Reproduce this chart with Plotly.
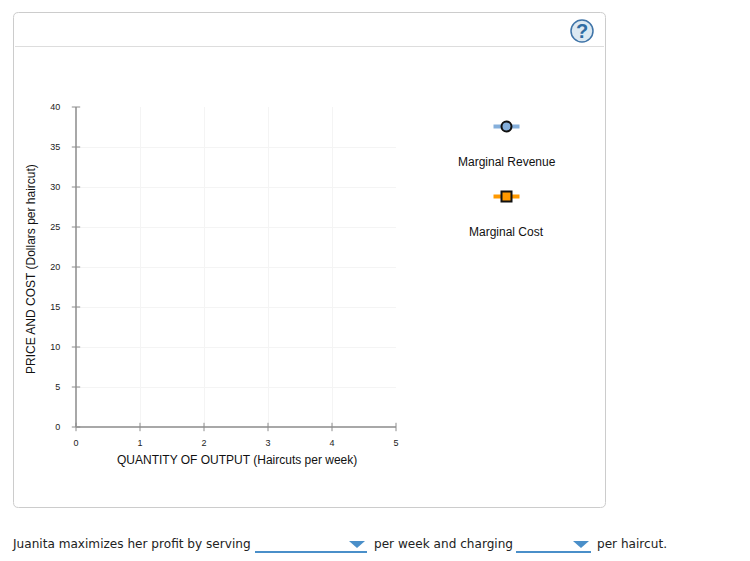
import plotly.graph_objects as go

# ---- data ----
x_ticks = [0, 1, 2, 3, 4, 5]
y_ticks = [0, 5, 10, 15, 20, 25, 30, 35, 40]
series_names = ["Marginal Revenue", "Marginal Cost"]
series_colors = ["#85afdb", "#ff9900"]
series_symbols = ["circle", "square"]
x_title = "QUANTITY OF OUTPUT (Haircuts per week)"
y_title = "PRICE AND COST (Dollars per haircut)"
sentence = ["Juanita maximizes her profit by serving", "per week and charging", "per haircut."]

# ---- page geometry (pixels) ----
W, H = 750, 561
L, R, T, B = 76, 396, 107, 427
AX = "#a8a8a8"
TICK = "#8c8c8c"
GRID = "#f4f4f4"
ARIAL = "Liberation Sans, Arial, sans-serif"
VERD = "DejaVu Sans, Verdana, sans-serif"
BLUE = "#4a8fc9"
CLEAR = "rgba(0,0,0,0)"

fig = go.Figure()

# crossing tick marks on both axes
fig.add_trace(go.Scatter(x=[0] * len(y_ticks), y=y_ticks, mode="markers", hoverinfo="skip", showlegend=False,
                         cliponaxis=False,
                         marker=dict(symbol="line-ew-open", size=6, color=TICK, line=dict(color=TICK, width=1))))
fig.add_trace(go.Scatter(x=x_ticks, y=[0] * len(x_ticks), mode="markers", hoverinfo="skip", showlegend=False,
                         cliponaxis=False,
                         marker=dict(symbol="line-ns-open", size=6, color=TICK, line=dict(color=TICK, width=1))))

# legend glyphs, drawn on a page-sized second axis pair
glyph_y = [126.5, 196.5]
label_y = [161.5, 231.5]
glyph_x = 506.5
for name, color, sym, gy in zip(series_names, series_colors, series_symbols, glyph_y):
    fig.add_trace(go.Scatter(x=[glyph_x - 13, glyph_x + 13], y=[gy, gy], xaxis="x2", yaxis="y2", mode="lines",
                             showlegend=False, hoverinfo="skip", line=dict(color=color, width=4)))
    fig.add_trace(go.Scatter(x=[glyph_x], y=[gy], xaxis="x2", yaxis="y2", mode="markers", name=name,
                             showlegend=False, hoverinfo="skip",
                             marker=dict(symbol=sym, size=10, color=color, line=dict(color="#111111", width=2))))

ann = []
for name, ly in zip(series_names, label_y):
    ann.append(dict(x=glyph_x, y=ly, xref="x2", yref="y2", text=name, showarrow=False,
                    font=dict(family=ARIAL, size=12, color="#111111"), xanchor="center", yanchor="middle"))
ann.append(dict(x=236.5, y=459.5, xref="x2", yref="y2", text=x_title, showarrow=False,
                font=dict(family=ARIAL, size=12, color="#111111"), xanchor="center", yanchor="middle"))
ann.append(dict(x=30.5, y=269.5, xref="x2", yref="y2", text=y_title, showarrow=False, textangle=-90,
                font=dict(family=ARIAL, size=12, color="#111111"), xanchor="center", yanchor="middle"))
for txt, tx in zip(sentence, [10, 372, 595]):
    ann.append(dict(x=tx, y=543.5, xref="x2", yref="y2", text=txt, showarrow=False,
                    font=dict(family=VERD, size=12.1, color="#222222"), xanchor="left", yanchor="middle"))
ann.append(dict(x=582, y=31, xref="x2", yref="y2", text="<b>?</b>", showarrow=False,
                font=dict(family=ARIAL, size=20, color="#2f6ca3"), xanchor="center", yanchor="middle"))

r = 5
x0, x1, y0, y1 = 13.5, 605.5, 12.5, 507.5
panel = (f"M{x0+r},{y0} L{x1-r},{y0} Q{x1},{y0} {x1},{y0+r} L{x1},{y1-r} Q{x1},{y1} {x1-r},{y1} "
         f"L{x0+r},{y1} Q{x0},{y1} {x0},{y1-r} L{x0},{y0+r} Q{x0},{y0} {x0+r},{y0} Z")
shapes = [
    dict(type="path", path=panel, xref="x2", yref="y2", line=dict(color="#cccccc", width=1), layer="below"),
    dict(type="line", x0=15, x1=604, y0=46.5, y1=46.5, xref="x2", yref="y2", line=dict(color="#dddddd", width=1), layer="below"),
    dict(type="circle", x0=571, x1=593, y0=20, y1=42, xref="x2", yref="y2",
         fillcolor="#dce9f2", line=dict(color="#3f74a8", width=1.5), layer="below"),
]
for lx0, lx1, t0, t1 in [(255, 367, 349, 365), (516, 591, 573, 589)]:
    shapes.append(dict(type="line", x0=lx0, x1=lx1, y0=552, y1=552, xref="x2", yref="y2",
                       line=dict(color=BLUE, width=2)))
    shapes.append(dict(type="path", path=f"M{t0},541 L{t1},541 L{(t0+t1)/2},548 Z", xref="x2", yref="y2",
                       fillcolor=BLUE, line=dict(width=0)))

fig.update_layout(
    width=W, height=H, autosize=False, margin=dict(l=0, r=0, t=0, b=0),
    paper_bgcolor="white", plot_bgcolor=CLEAR, showlegend=False,
    shapes=shapes, annotations=ann,
    font=dict(family=ARIAL, size=9, color="#222222"),
    xaxis=dict(domain=[L / W, R / W], range=[0, 5], tickvals=x_ticks, ticks="outside", ticklen=7, tickcolor=CLEAR,
               showgrid=True, gridcolor=GRID, gridwidth=1, showline=False,
               zeroline=True, zerolinecolor=AX, zerolinewidth=2,
               tickfont=dict(family=ARIAL, size=9, color="#222222"), anchor="y", fixedrange=True,
               automargin=False),
    yaxis=dict(domain=[(H - B) / H, (H - T) / H], range=[0, 40], tickvals=y_ticks, ticks="outside", ticklen=13,
               tickcolor=CLEAR, showgrid=True, gridcolor=GRID, gridwidth=1, showline=False,
               zeroline=True, zerolinecolor=AX, zerolinewidth=2,
               tickfont=dict(family=ARIAL, size=9, color="#222222"), anchor="x", fixedrange=True,
               automargin=False),
    xaxis2=dict(domain=[0, 1], range=[0, W], visible=False, anchor="y2", fixedrange=True, automargin=False),
    yaxis2=dict(domain=[0, 1], range=[H, 0], visible=False, anchor="x2", fixedrange=True, automargin=False),
)

fig.write_html("out.html", config=dict(displayModeBar=False),
               post_script="document.body.style.margin='0';document.body.style.overflow='hidden';")
